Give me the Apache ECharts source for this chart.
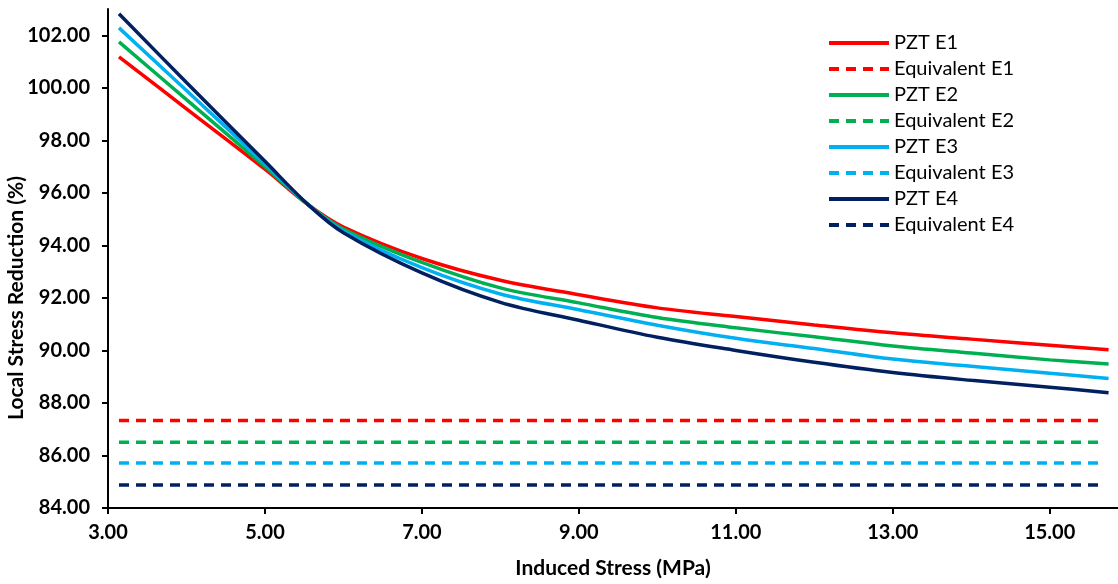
<!DOCTYPE html>
<html>
<head>
<meta charset="utf-8">
<script src="https://cdn.jsdelivr.net/npm/echarts@6/dist/echarts.min.js"></script>
<style>
html,body{margin:0;padding:0;background:#fff;}
#main{width:1118px;height:584px;}
</style>
</head>
<body>
<div id="main"></div>
<script>
// x positions (MPa)
var xStress = [3.14, 4, 5, 5.55, 6, 7, 8, 9, 10, 11, 12, 13, 14, 15, 15.75];

var pztE1 = [101.18, 99.2, 96.9, 95.55, 94.7, 93.5, 92.67, 92.12, 91.62, 91.29, 90.97, 90.67, 90.43, 90.2, 90.03];
var pztE2 = [101.75, 99.55, 97.0, 95.55, 94.62, 93.35, 92.38, 91.81, 91.25, 90.86, 90.52, 90.17, 89.9, 89.64, 89.48];
var pztE3 = [102.28, 99.9, 97.1, 95.55, 94.55, 93.15, 92.15, 91.55, 90.96, 90.46, 90.07, 89.67, 89.4, 89.13, 88.93];
var pztE4 = [102.82, 100.2, 97.2, 95.55, 94.48, 92.95, 91.83, 91.15, 90.5, 90.0, 89.55, 89.16, 88.86, 88.6, 88.39];

var eqX = [3.14, 15.7];
var eqE1 = 87.33;
var eqE2 = 86.5;
var eqE3 = 85.71;
var eqE4 = 84.88;

var xTicks = [3, 5, 7, 9, 11, 13, 15];
var yTicks = [84, 86, 88, 90, 92, 94, 96, 98, 100, 102];

var colors = ['#FF0000', '#00B050', '#00B0F0', '#002060'];

function pairs(xs, ys){
	var out=[];
	for(var i=0;i<xs.length;i++){
		out.push([xs[i], ys[i]]);
	}
	return out;
}
function flat(val){
	return eqX.map(function(x){ return [x, val]; });
}

function pztSeries(name, data, color){
	return {
		name: name, type: 'line', data: pairs(xStress, data),
		smooth: 0.35, symbol: 'none',
		lineStyle: {color: color, width: 3.5},
		itemStyle: {color: color}
	};
}
function eqSeries(name, val, color){
	return {
		name: name, type: 'line', data: flat(val),
		symbol: 'none',
		lineStyle: {color: color, width: 3.5, type: [10, 7]},
		itemStyle: {color: color}
	};
}

var chart = echarts.init(document.getElementById('main'));
var fontB = {fontFamily: 'Lato', fontWeight: 'bold', fontSize: 21, color: '#000'};

chart.setOption({
	animation: false,
	grid: {left: 108, right: 0, top: 9, bottom: 74},
	legend: {
		orient: 'vertical', left: 822, top: 28,
		itemWidth: 60, itemHeight: 14, itemGap: 6,
		itemStyle: {opacity: 0},
		lineStyle: {width: 4},
		textStyle: {fontFamily: 'Lato', fontSize: 20, color: '#000', lineHeight: 20},
		data: ['PZT E1', 'Equivalent E1', 'PZT E2', 'Equivalent E2', 'PZT E3', 'Equivalent E3', 'PZT E4', 'Equivalent E4']
	},
	graphic: [{
		type: 'text', x: 16, y: 298, rotation: Math.PI / 2,
		style: {text: 'Local Stress Reduction (%)', align: 'center', verticalAlign: 'middle',
			fontFamily: 'Lato', fontWeight: 'bold', fontSize: 21, fill: '#000'}
	}],
	xAxis: {
		type: 'value', min: 3, max: 15.87,
		name: 'Induced Stress (MPa)', nameLocation: 'middle', nameGap: 50,
		nameTextStyle: fontB,
		axisLine: {lineStyle: {color: '#000', width: 2}},
		axisTick: {show: true, length: 6, customValues: xTicks, lineStyle: {color: '#000', width: 2}},
		axisLabel: {customValues: xTicks, margin: 15, fontFamily: 'Lato', fontWeight: 'bold', fontSize: 20, color: '#000',
			formatter: function(v){ return v.toFixed(2); }},
		splitLine: {show: false}
	},
	yAxis: {
		type: 'value', min: 84, max: 103,
		axisLine: {show: true, lineStyle: {color: '#000', width: 2}},
		axisTick: {show: true, length: 6, customValues: yTicks, lineStyle: {color: '#000', width: 2}},
		axisLabel: {customValues: yTicks, margin: 18, fontFamily: 'Lato', fontWeight: 'bold', fontSize: 20, color: '#000',
			formatter: function(v){ return v.toFixed(2); }},
		splitLine: {show: false}
	},
	series: [
		pztSeries('PZT E1', pztE1, colors[0]),
		eqSeries('Equivalent E1', eqE1, colors[0]),
		pztSeries('PZT E2', pztE2, colors[1]),
		eqSeries('Equivalent E2', eqE2, colors[1]),
		pztSeries('PZT E3', pztE3, colors[2]),
		eqSeries('Equivalent E3', eqE3, colors[2]),
		pztSeries('PZT E4', pztE4, colors[3]),
		eqSeries('Equivalent E4', eqE4, colors[3])
	]
});
</script>
</body>
</html>
